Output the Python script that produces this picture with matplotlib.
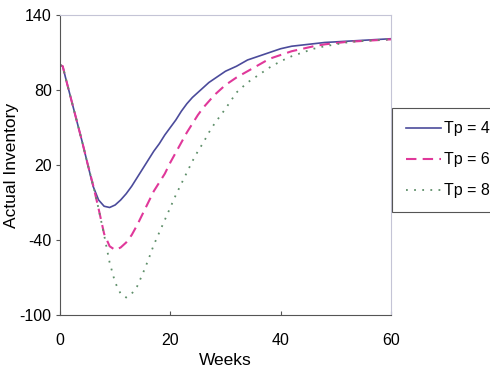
import matplotlib
matplotlib.use("Agg")
import matplotlib.pyplot as plt

# 周数（横轴）
weeks = [0, 0.5, 1, 2, 3, 4, 5, 6, 7, 8, 9, 10, 11, 12, 13, 14, 15, 16, 17, 18, 19,
         20, 21, 22, 23, 24, 25, 26, 27, 28, 29, 30, 32, 34, 36, 38, 40, 42, 44,
         46, 48, 50, 52, 54, 56, 58, 60]

# 三条曲线：不同 Tp 下的实际库存
inv_tp4 = [100, 99, 90, 73, 56, 39, 21, 3, -8, -13, -14, -12, -8, -3, 3, 10, 17, 24, 31, 37, 44,
           50, 56, 63, 69, 74, 78, 82, 86, 89, 92, 95, 99, 104, 107, 110, 113, 115, 116,
           117, 118, 118.5, 119, 119.5, 120, 120.5, 121]
inv_tp6 = [100, 99, 90, 73, 56, 39, 21, 4, -15, -35, -45, -48, -46, -42, -36, -28, -19, -10, -1, 6, 13,
           22, 30, 38, 46, 53, 60, 66, 71, 76, 80, 84, 90, 95, 100, 105, 108, 111, 113,
           115, 116.5, 117.5, 118.5, 119, 119.5, 120, 120.5]
inv_tp8 = [100, 99, 90, 73, 56, 39, 21, 4, -15, -36, -58, -74, -83, -86, -83, -77, -67, -56, -44, -34, -24,
           -14, -4, 5, 14, 23, 31, 38, 46, 53, 59, 65, 78, 86, 92, 98, 103, 107, 110,
           113, 115, 116.5, 118, 119, 119.5, 120, 120.5]

series_labels = ["Tp = 4", "Tp = 6", "Tp = 8"]
y_ticks = [-100, -40, 20, 80, 140]
x_ticks = [0, 20, 40, 60]

plt.rcParams["font.family"] = ["Liberation Sans", "DejaVu Sans"]
plt.rcParams["axes.unicode_minus"] = False

fig = plt.figure(figsize=(4.9, 3.84), dpi=100)
ax = fig.add_axes([0.1224, 0.1797, 0.6755, 0.7813])

ax.plot(weeks, inv_tp4, color="#4b4b9b", lw=1.2, linestyle="-", label=series_labels[0])
ax.plot(weeks, inv_tp6, color="#e0389a", lw=1.5, linestyle=(0, (5, 3)), label=series_labels[1])
ax.plot(weeks, inv_tp8, color="#5f8f6a", lw=1.3, linestyle=(0, (1, 3.5)), label=series_labels[2])

ax.set_xlim(0, 60)
ax.set_ylim(-100, 140)
ax.set_xticks(x_ticks)
ax.set_yticks(y_ticks)
ax.tick_params(axis="x", direction="in", length=3, pad=13, labelsize=11.5, color="#555555")
ax.tick_params(axis="y", direction="out", length=3, pad=3, labelsize=11.5, color="#555555")

for side in ["left", "bottom"]:
    ax.spines[side].set_color("#555555")
for side in ["top", "right"]:
    ax.spines[side].set_color("#c4c4d6")

ax.set_xlabel("Weeks", fontsize=12.5)
ax.set_ylabel("Actual Inventory", fontsize=12.5)
ax.xaxis.set_label_coords(0.5, -0.128)
ax.yaxis.set_label_coords(-0.125, 0.5)

leg = fig.legend(loc="upper left", bbox_to_anchor=(0.8, 0.719), fontsize=11.5,
                 frameon=True, fancybox=False, edgecolor="#555555", framealpha=1,
                 handlelength=2.2, handletextpad=0.2, labelspacing=1.0,
                 borderpad=0.85, borderaxespad=0)
leg.get_frame().set_linewidth(0.8)

fig.savefig("out.png", dpi=100, facecolor="white")
